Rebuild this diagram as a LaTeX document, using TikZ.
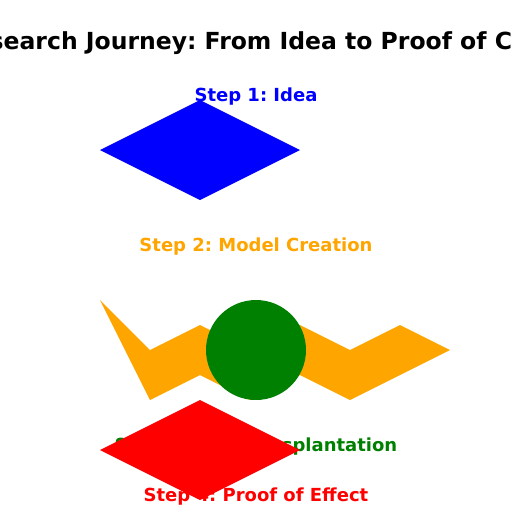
\documentclass[tikz,border=0pt]{standalone}
\usepackage{fontspec}
\setmainfont{DejaVu Sans}
\usepackage{tikz}
\definecolor{ideablue}{RGB}{0, 0, 255}
\definecolor{modelorange}{RGB}{255, 165, 0}
\definecolor{plantgreen}{RGB}{0, 128, 0}
\definecolor{proofred}{RGB}{255, 0, 0}
\frenchspacing

\begin{document}
\begin{tikzpicture}[x=1pt, y=-1pt,
    steplabel/.style={font=\bfseries\fontsize{18}{21}\selectfont, inner sep=0pt}]

  \useasboundingbox[fill=white] (0, 0) rectangle (512, 512);

  \node[font=\bfseries\fontsize{23.5}{28}\selectfont, inner sep=0pt] (title) at (256, 43)
    {Research Journey: From Idea to Proof of Cure};

  % labels of the four steps
  \node[steplabel, text=ideablue]    (idea)  at (256, 96.5)  {Step 1: Idea};
  \node[steplabel, text=modelorange] (model) at (256, 246.5) {Step 2: Model Creation};
  \node[steplabel, text=plantgreen]  (plant) at (256, 446.5) {Step 3: Cell Transplantation};
  \node[steplabel, text=proofred]    (proof) at (256, 496.5) {Step 4: Proof of Effect};

  % step 1
  \fill[ideablue] (100, 150) -- (200, 100) -- (300, 150) -- (200, 200) -- cycle;

  % step 2
  \fill[modelorange] (100, 300) -- (150, 350) -- (200, 325) -- (250, 350)
                  -- (300, 325) -- (350, 350) -- (400, 325) -- (450, 350)
                  -- (350, 400) -- (300, 375) -- (250, 400) -- (200, 375)
                  -- (150, 400) -- cycle;

  % step 3
  \fill[plantgreen] (256, 350) circle[radius=50];

  % step 4
  \fill[proofred] (100, 450) -- (200, 400) -- (300, 450) -- (200, 500) -- cycle;

\end{tikzpicture}
\end{document}
